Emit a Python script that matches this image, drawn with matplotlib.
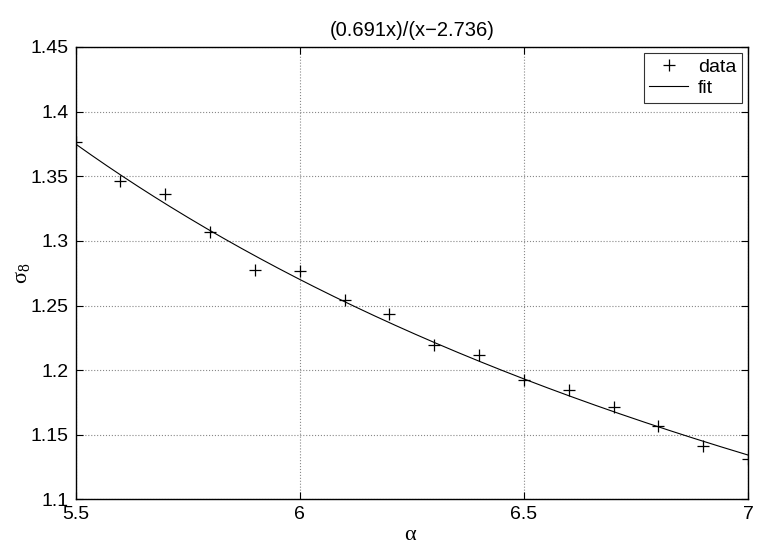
import matplotlib
matplotlib.use('Agg')
import matplotlib.pyplot as plt
import numpy as np

plt.rcParams['font.family'] = ['Liberation Sans', 'DejaVu Sans']
plt.rcParams['mathtext.fontset'] = 'custom'
plt.rcParams['mathtext.rm'] = 'Liberation Serif'

# measured sigma_8 against alpha
alpha = [5.5, 5.6, 5.7, 5.8, 5.9, 6.0, 6.1, 6.2, 6.3, 6.4, 6.5, 6.6, 6.7, 6.8, 6.9, 7.0]
sigma8 = [1.3763, 1.3466, 1.3360, 1.3066, 1.2775, 1.2764, 1.2545, 1.2434,
          1.2196, 1.2117, 1.1923, 1.1846, 1.1714, 1.1570, 1.1416, 1.1316]

# fit: (a x)/(x - b)
fit_a = 0.691
fit_b = 2.736

xticks = [5.5, 6, 6.5, 7]
xtick_labels = ['5.5', '6', '6.5', '7']
yticks = [1.1, 1.15, 1.2, 1.25, 1.3, 1.35, 1.4, 1.45]
ytick_labels = ['1.1', '1.15', '1.2', '1.25', '1.3', '1.35', '1.4', '1.45']

fig = plt.figure(figsize=(7.63, 5.45), dpi=100)
ax = fig.add_axes([0.099, 0.0835, 0.8814, 0.8303])

xf = np.linspace(alpha[0], alpha[-1], 300)
ax.plot(alpha, sigma8, '+', color='black', markersize=8, markeredgewidth=0.9, label='data')
ax.plot(xf, fit_a * xf / (xf - fit_b), '-', color='black', linewidth=0.8, label='fit')

ax.set_xlim(5.5, 7)
ax.set_ylim(1.1, 1.45)
ax.set_xticks(xticks)
ax.set_xticklabels(xtick_labels)
ax.set_yticks(yticks)
ax.set_yticklabels(ytick_labels)
ax.tick_params(direction='in', top=True, right=True, labelsize=14, length=5, pad=5)
ax.grid(True, linestyle=':', color='#888888', linewidth=0.8)
for s in ax.spines.values():
    s.set_linewidth(1.0)

ax.set_title('(0.691x)/(x\u22122.736)', fontsize=14.5, pad=8)
ax.set_xlabel('\u03b1', fontsize=16, family=['Liberation Serif', 'DejaVu Serif'])
ax.xaxis.set_label_coords(0.497, -0.058)
ax.set_ylabel('\u03c3$_8$', fontsize=16, family=['Liberation Serif', 'DejaVu Serif'])
ax.yaxis.set_label_coords(-0.063, 0.50)

leg = ax.legend(loc='upper right', fontsize=14, frameon=True, fancybox=False,
                edgecolor='black', borderaxespad=0.3, handlelength=2.0,
                handletextpad=0.5, borderpad=0.3, labelspacing=0.15)
leg.get_frame().set_linewidth(0.8)

fig.savefig('out.png', dpi=100)
